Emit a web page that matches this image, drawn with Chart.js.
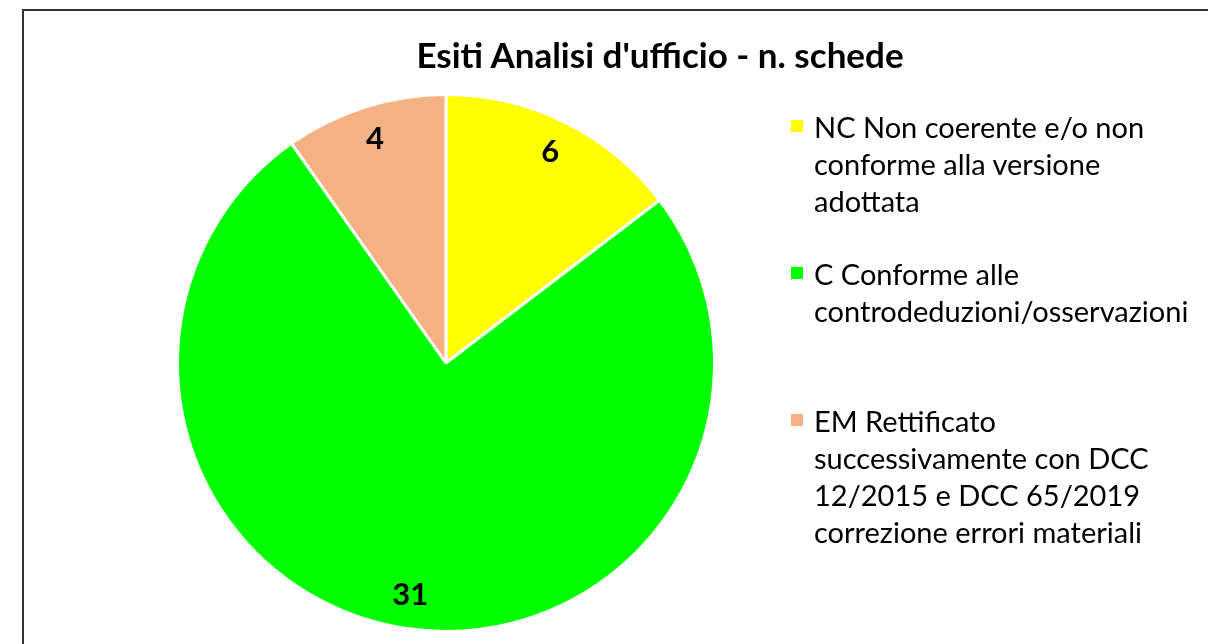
<!DOCTYPE html>
<html>
<head>
<meta charset="utf-8">
<script src="https://cdn.jsdelivr.net/npm/chart.js@4.4.1/dist/chart.umd.min.js"></script>
<style>
    html, body { margin: 0; padding: 0; background: #fff; overflow: hidden; }
    body { width: 1208px; height: 644px; position: relative; font-family: Lato, 'Open Sans', sans-serif; }
    .frame {
        position: absolute; left: 22px; top: 9px; width: 1400px; height: 800px;
        border: 2px solid #333; box-sizing: border-box;
    }
    .title {
        position: absolute; left: 0; width: 1320px; top: 32px; text-align: center;
        font-weight: bold; font-size: 35px; line-height: 44px; color: #000; white-space: nowrap;
    }
    #chartWrap { position: absolute; left: 0; top: 0; width: 1208px; height: 644px; }
    .legend { position: absolute; left: 791px; top: 108px; }
    .legend-item { position: relative; height: 147px; padding-left: 23px; }
    .legend-box { position: absolute; left: 0; top: 12px; width: 12px; height: 12px; }
    .legend-text { font-size: 29px; line-height: 37px; color: #000; white-space: nowrap; }
</style>
</head>
<body>
<div class="frame"></div>
<div id="chartWrap"><canvas id="pie" width="1208" height="644"></canvas></div>
<div class="title" id="title"></div>
<div class="legend" id="legend"></div>
<script>
// Esiti Analisi d'ufficio - pie chart data
const chartTitle = "Esiti Analisi d'ufficio - n. schede";
const categories = [
    ['NC Non coerente e/o non', 'conforme alla versione', 'adottata'],
    ['C Conforme alle', 'controdeduzioni/osservazioni'],
    ['EM Rettificato', 'successivamente con DCC', '12/2015 e DCC 65/2019', 'correzione errori materiali']
];
const schede = [6, 31, 4];
const sliceColors = ['#FFFF00', '#00FF00', '#F4B183'];

document.getElementById('title').textContent = chartTitle;

// value labels inside the slices, like the Excel "inside end" labels
const sliceLabels = {
    id: 'sliceLabels',
    afterDatasetsDraw(chart) {
        const ctx = chart.ctx;
        const meta = chart.getDatasetMeta(0);
        ctx.save();
        ctx.font = 'bold 31px Lato, sans-serif';
        ctx.fillStyle = '#000';
        ctx.textAlign = 'center';
        ctx.textBaseline = 'middle';
        meta.data.forEach((arc, i) => {
            const p = arc.getProps(['x', 'y', 'startAngle', 'endAngle', 'outerRadius']);
            const mid = (p.startAngle + p.endAngle) / 2;
            const r = p.outerRadius * 0.875;
            ctx.fillText(String(chart.data.datasets[0].data[i]), p.x + Math.cos(mid) * r, p.y + Math.sin(mid) * r);
        });
        ctx.restore();
    }
};

const chart = new Chart(document.getElementById('pie'), {
    type: 'pie',
    data: {
        labels: categories,
        datasets: [{
            data: schede,
            backgroundColor: sliceColors,
            borderColor: '#ffffff',
            borderWidth: 3
        }]
    },
    options: {
        responsive: false,
        animation: false,
        layout: { padding: { left: 176, top: 93, right: 492, bottom: 11 } },
        plugins: {
            legend: { display: false },
            title: { display: false },
            tooltip: { enabled: false }
        }
    },
    plugins: [sliceLabels]
});

// HTML legend so the labels can wrap over several lines
const legend = document.getElementById('legend');
chart.data.labels.forEach((lines, i) => {
    const item = document.createElement('div');
    item.className = 'legend-item';
    const box = document.createElement('div');
    box.className = 'legend-box';
    box.style.background = sliceColors[i];
    const text = document.createElement('div');
    text.className = 'legend-text';
    lines.forEach(line => {
        const row = document.createElement('div');
        row.textContent = line;
        text.appendChild(row);
    });
    item.appendChild(box);
    item.appendChild(text);
    legend.appendChild(item);
});
</script>
</body>
</html>
